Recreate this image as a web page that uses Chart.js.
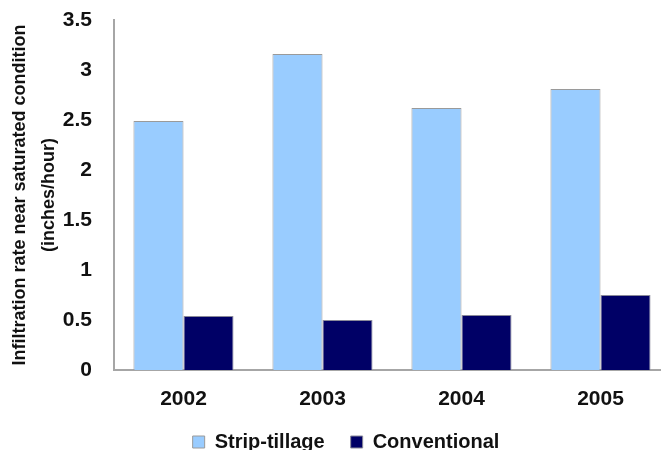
<!DOCTYPE html>
<html>
<head>
<meta charset="utf-8">
<script src="https://cdn.jsdelivr.net/npm/chart.js@4"></script>
<style>
  html, body { margin: 0; padding: 0; background: #fff; overflow: hidden; }
  #wrap { width: 670px; height: 450px; }
</style>
</head>
<body>
<div id="wrap"><canvas id="chart" width="670" height="450"></canvas></div>
<script>
// valeurs
const years = ['2002', '2003', '2004', '2005'];
const stripTillage = [2.49, 3.16, 2.62, 2.81];
const conventional = [0.54, 0.50, 0.55, 0.75];
const yTicks = [0, 0.5, 1, 1.5, 2, 2.5, 3, 3.5];

const fontFamily = '"Liberation Sans", Arial, sans-serif';
const axisGray = '#a6a6a6';

const ctx = document.getElementById('chart').getContext('2d');
new Chart(ctx, {
    type: 'bar',
    data: {
        labels: years,
        datasets: [{
            label: 'Strip-tillage',
            data: stripTillage,
            backgroundColor: '#99ccff',
            borderColor: '#9a9a9a',
            borderWidth: 1
        }, {
            label: 'Conventional',
            data: conventional,
            backgroundColor: '#000066',
            borderColor: '#8a8a9a',
            borderWidth: 1
        }]
    },
    options: {
        responsive: false,
        animation: false,
        // le padding gauche décale la légende vers la droite
        layout: { padding: { top: 20, left: 22, right: 0, bottom: -12 } },
        datasets: {
            bar: { categoryPercentage: 0.72, barPercentage: 1 }
        },
        scales: {
            x: {
                grid: { display: false, drawTicks: false },
                border: { color: axisGray, width: 2 },
                ticks: {
                    padding: 17,
                    color: '#111',
                    font: { family: fontFamily, size: 21, weight: 'bold' }
                },
                afterFit: (scale) => { scale.height = 36; }
            },
            y: {
                min: 0,
                max: 3.5,
                afterBuildTicks: (scale) => {
                    scale.ticks = yTicks.map(v => ({ value: v }));
                },
                grid: { display: false, drawTicks: false },
                border: { color: axisGray, width: 2 },
                ticks: {
                    padding: 22,
                    color: '#111',
                    font: { family: fontFamily, size: 21, weight: 'bold' },
                    callback: (v) => String(v)
                },
                title: {
                    display: true,
                    text: ['Infiltration rate near saturated condition', '(inches/hour)'],
                    color: '#111',
                    padding: { top: -16, bottom: 0 },
                    font: { family: fontFamily, size: 18, weight: 'bold', lineHeight: 1.6 }
                },
                afterFit: (scale) => {
                    scale.width = 92;
                    scale.paddingTop = 0;
                }
            }
        },
        plugins: {
            legend: {
                position: 'bottom',
                labels: {
                    boxWidth: 12,
                    boxHeight: 12,
                    padding: 26,
                    color: '#111',
                    font: { family: fontFamily, size: 20, weight: 'bold' }
                }
            },
            tooltip: { enabled: false }
        }
    }
});
</script>
</body>
</html>
